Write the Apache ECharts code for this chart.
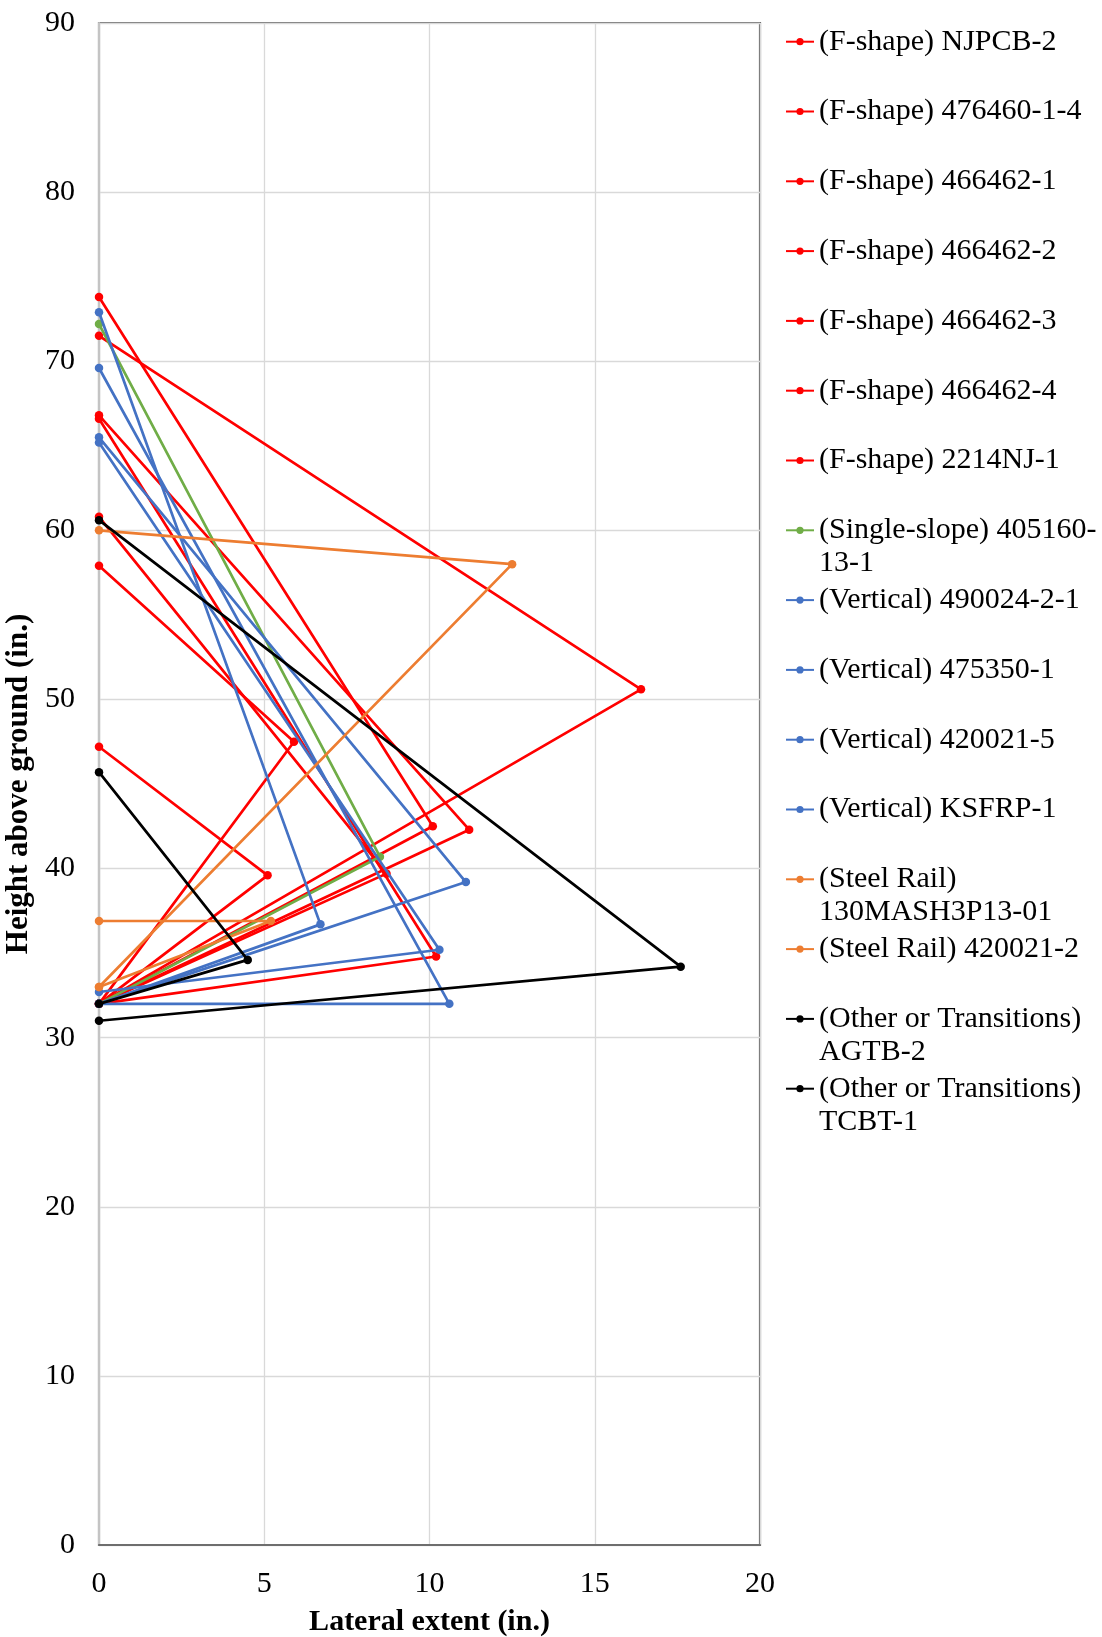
<!DOCTYPE html>
<html>
<head>
<meta charset="utf-8">
<script src="https://cdn.jsdelivr.net/npm/echarts@6/dist/echarts.min.js"></script>
<style>
html,body{margin:0;padding:0;background:#fff;}
#chart{width:1102px;height:1637px;}
</style>
</head>
<body>
<div id="chart"></div>
<script>
// ---- data ----
const groups = ['F-shape','F-shape','F-shape','F-shape','F-shape','F-shape','F-shape',
  'Single-slope','Vertical','Vertical','Vertical','Vertical','Steel Rail','Steel Rail',
  'Other or Transitions','Other or Transitions'];
const testIds = ['NJPCB-2','476460-1-4','466462-1','466462-2','466462-3','466462-4','2214NJ-1',
  '405160-13-1','490024-2-1','475350-1','420021-5','KSFRP-1','130MASH3P13-01','420021-2',
  'AGTB-2','TCBT-1'];
// each test: point at the barrier face (top), point of max lateral extent, point at the face (bottom)
const faceExtent   = [0,0,0,0,0,0,0,0,0,0,0,0,0,0,0,0];
const topHeight    = [73.8,71.5,66.8,66.6,60.8,57.9,47.2,72.2,72.9,69.6,65.5,65.2,60.0,36.9,60.6,45.7];
const maxExtent    = [10.1,16.4,11.2,10.2,8.7,5.9,5.1,8.5,6.7,10.6,11.1,10.3,12.5,5.2,17.6,4.5];
const heightAtMax  = [42.5,50.6,42.3,34.8,39.7,47.5,39.6,40.7,36.7,32.0,39.2,35.2,58.0,36.9,34.2,34.6];
const bottomHeight = [32.0,32.0,32.0,32.0,32.0,32.0,32.0,32.0,32.0,32.0,32.0,32.7,33.0,33.0,31.0,32.0];
const xTicks = [0,5,10,15,20];
const yTicks = [0,10,20,30,40,50,60,70,80,90];
// legend text as wrapped in the reference
const legendWrap = {
  '(Single-slope) 405160-13-1': '(Single-slope) 405160-\n13-1',
  '(Steel Rail) 130MASH3P13-01': '(Steel Rail)\n130MASH3P13-01',
  '(Other or Transitions) AGTB-2': '(Other or Transitions)\nAGTB-2',
  '(Other or Transitions) TCBT-1': '(Other or Transitions)\nTCBT-1'
};

// ---- styling ----
const FONT = 'Liberation Serif';
const groupColor = {
  'F-shape':'#FF0000', 'Single-slope':'#70AD47', 'Vertical':'#4472C4',
  'Steel Rail':'#ED7D31', 'Other or Transitions':'#000000'
};
const names = testIds.map((t,i)=>'(' + groups[i] + ') ' + t);

const series = names.map((n,i)=>({
  name:n, type:'line',
  data:[[faceExtent[i], topHeight[i]],[maxExtent[i], heightAtMax[i]],[faceExtent[i], bottomHeight[i]]],
  symbol:'circle', symbolSize:8.5, showAllSymbol:true,
  lineStyle:{width:2.7, color:groupColor[groups[i]]},
  itemStyle:{color:groupColor[groups[i]]},
  emphasis:{disabled:true}, z:2+i
}));

const LH = 33;
const legends = names.map((n,i)=>{
  const c = 41.7 + i*69.8;
  const wrapped = legendWrap[n];
  return {
    data:[n], orient:'vertical', left:785, top: wrapped ? c - 1.5*LH : c - 0.5*LH,
    padding:0, itemWidth:28, itemHeight:9, itemGap:0, selectedMode:false,
    // a leading blank line keeps the icon level with the first text line
    formatter: (nm)=> legendWrap[nm] ? '\n' + legendWrap[nm] : nm,
    textStyle:{fontFamily:FONT, fontSize:30, color:'#000', lineHeight:LH}
  };
});

const chart = echarts.init(document.getElementById('chart'), null, {renderer:'canvas'});
chart.setOption({
  animation:false,
  backgroundColor:'#fff',
  textStyle:{fontFamily:FONT},
  grid:{left:99, right:342, top:23, bottom:92, show:true, borderColor:'#6e6e6e', borderWidth:2.2,
        backgroundColor:'transparent', containLabel:false, outerBoundsMode:'none'},
  xAxis:{
    type:'value', min:xTicks[0], max:xTicks[xTicks.length-1], interval:xTicks[1]-xTicks[0],
    name:'Lateral extent (in.)', nameLocation:'middle', nameGap:62,
    nameTextStyle:{fontFamily:FONT, fontSize:30, fontWeight:'bold', color:'#000'},
    axisLine:{show:true, lineStyle:{color:'#6e6e6e', width:2.2}},
    axisTick:{show:false},
    axisLabel:{fontFamily:FONT, fontSize:30, color:'#000', margin:24},
    splitLine:{show:true, lineStyle:{color:'#d9d9d9', width:1.3}}
  },
  yAxis:{
    type:'value', min:yTicks[0], max:yTicks[yTicks.length-1], interval:yTicks[1]-yTicks[0],
    name:'Height above ground (in.)', nameLocation:'middle', nameGap:53,
    nameTextStyle:{fontFamily:FONT, fontSize:31, fontWeight:'bold', color:'#000'},
    axisLine:{show:true, lineStyle:{color:'#c4c4c4', width:2}},
    axisTick:{show:false},
    axisLabel:{fontFamily:FONT, fontSize:30, color:'#000', margin:24},
    splitLine:{show:true, lineStyle:{color:'#d9d9d9', width:1.3}}
  },
  legend: legends,
  series: series
});
</script>
</body>
</html>
